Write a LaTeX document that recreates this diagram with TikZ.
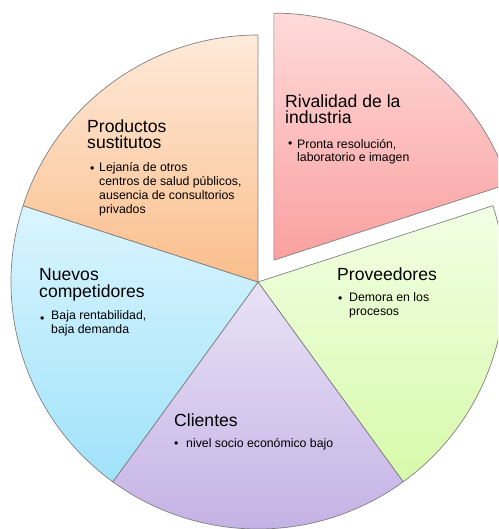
\documentclass[tikz,border=0pt]{standalone}
\usepackage{fontspec}
\setmainfont{Liberation Sans}
\definecolor{rojoA}{RGB}{255,218,218}
\definecolor{rojoB}{RGB}{250,160,160}
\definecolor{verdeA}{RGB}{242,255,228}
\definecolor{verdeB}{RGB}{215,250,170}
\definecolor{lilaA}{RGB}{232,226,246}
\definecolor{lilaB}{RGB}{195,175,228}
\definecolor{azulA}{RGB}{218,245,255}
\definecolor{azulB}{RGB}{160,226,250}
\definecolor{naranjaA}{RGB}{255,234,218}
\definecolor{naranjaB}{RGB}{250,190,140}
\begin{document}
\begin{tikzpicture}[x=0.03cm,y=0.03cm,
    sector/.style={draw=black!50, line width=0.6pt, line join=round},
    titulo/.style={anchor=base west, inner sep=0pt, align=left,
      font=\fontsize{15}{14.5}\selectfont},
    punto/.style={anchor=base west, inner sep=0pt,
      font=\fontsize{10.5}{11.7}\selectfont},
    texto/.style={anchor=base west, inner sep=0pt, align=left,
      font=\fontsize{10.5}{11.7}\selectfont}]
  \useasboundingbox (-258,-247) rectangle (240,282);
  \clip (-258,-247) rectangle (240,282);
  % sectores
  \draw[sector, top color=verdeA, bottom color=verdeB]
    (0,0) -- (18:247) arc[start angle=18, end angle=-54, radius=247] -- cycle;
  \draw[sector, top color=lilaA, bottom color=lilaB]
    (0,0) -- (-54:247) arc[start angle=-54, end angle=-126, radius=247] -- cycle;
  \draw[sector, top color=azulA, bottom color=azulB]
    (0,0) -- (-126:247) arc[start angle=-126, end angle=-198, radius=247] -- cycle;
  \draw[sector, top color=naranjaA, bottom color=naranjaB]
    (0,0) -- (162:247) arc[start angle=162, end angle=90, radius=247] -- cycle;
  \begin{scope}[shift={(54:27)}]
    \draw[sector, top color=rojoA, bottom color=rojoB]
      (0,0) -- (90:247) arc[start angle=90, end angle=18, radius=247] -- cycle;
  \end{scope}
  % textos (base = ultima linea)
  \node[titulo] (rivtit) at (27,158) {Rivalidad de la\\industria};
  \node[punto] (rivpto) at (30,134) {•};
  \node[texto] (rivtxt) at (39,120) {Pronta resolución,\\laboratorio e imagen};
  \node[titulo] (prodtit) at (-171,133) {Productos\\sustitutos};
  \node[punto] (prodpto) at (-168,109) {•};
  \node[texto] (prodtxt) at (-159,69)
    {Lejanía de otros\\centros de salud públicos,\\ausencia de consultorios\\privados};
  \node[titulo] (nuetit) at (-219,-15) {Nuevos\\competidores};
  \node[punto] (nuepto) at (-218,-40) {•};
  \node[texto] (nuetxt) at (-207,-51) {Baja rentabilidad,\\baja demanda};
  \node[titulo] (provtit) at (79,2) {Proveedores};
  \node[punto] (provpto) at (80,-20) {•};
  \node[texto] (provtxt) at (91,-33) {Demora en los\\procesos};
  \node[titulo] (clitit) at (-84,-144) {Clientes};
  \node[punto] (clipto) at (-84,-165) {•};
  \node[texto] (clitxt) at (-72,-165) {nivel socio económico bajo};
\end{tikzpicture}
\end{document}
